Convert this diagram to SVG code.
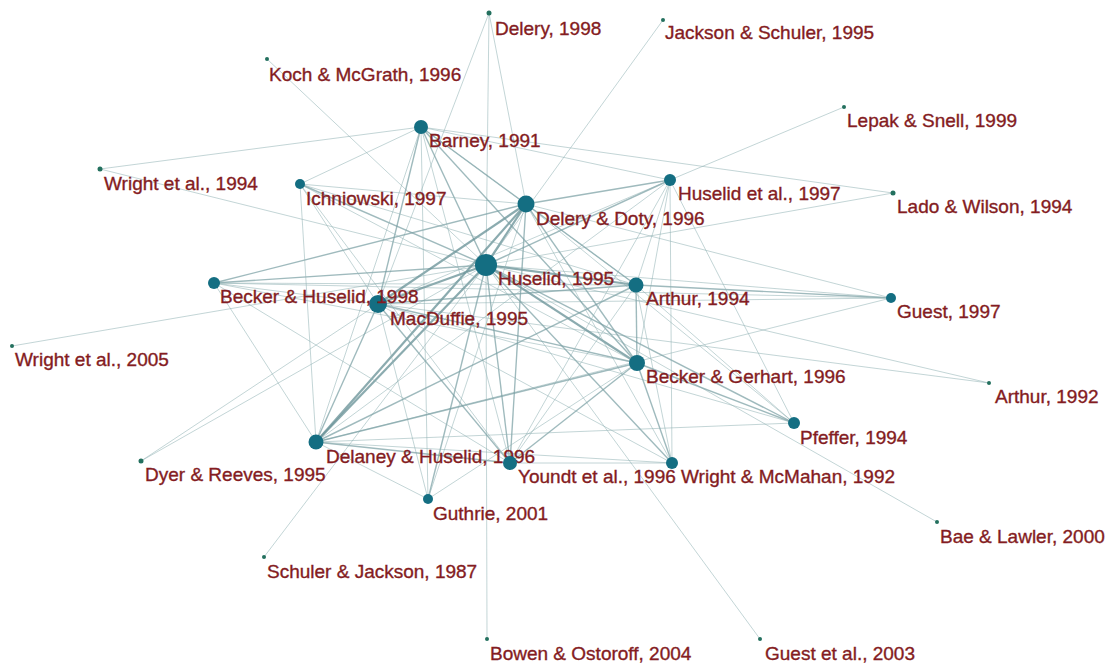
<svg xmlns="http://www.w3.org/2000/svg" width="1118" height="666" viewBox="0 0 1118 666">
<style>
.e1{stroke:#8fb0b3;stroke-width:0.9;stroke-opacity:0.6;fill:none}
.e2{stroke:#7a9fa3;stroke-width:1.4;stroke-opacity:0.72;fill:none}
.e3{stroke:#6a9398;stroke-width:2.2;stroke-opacity:0.78;fill:none}
.n{fill:#146e82}
.s{fill:#23705e}
text{font-family:"Liberation Sans",Arial,sans-serif;font-size:19px;fill:#841c22;stroke:#841c22;stroke-width:0.35}
</style>
<rect width="1118" height="666" fill="#ffffff"/>
<g id="connectors">
<line class="e1" x1="489" y1="13" x2="378" y2="304"/>
<line class="e1" x1="489" y1="13" x2="526" y2="204"/>
<line class="e1" x1="489" y1="13" x2="486" y2="265"/>
<line class="e1" x1="663" y1="20" x2="486" y2="265"/>
<line class="e1" x1="267" y1="59" x2="486" y2="265"/>
<line class="e1" x1="100" y1="169" x2="421" y2="127"/>
<line class="e1" x1="100" y1="169" x2="486" y2="265"/>
<line class="e1" x1="844" y1="107" x2="670" y2="180"/>
<line class="e1" x1="893" y1="193" x2="421" y2="127"/>
<line class="e1" x1="893" y1="193" x2="486" y2="265"/>
<line class="e2" x1="891" y1="298" x2="636" y2="285"/>
<line class="e1" x1="891" y1="298" x2="486" y2="265"/>
<line class="e1" x1="891" y1="298" x2="378" y2="304"/>
<line class="e1" x1="891" y1="298" x2="214" y2="283"/>
<line class="e1" x1="891" y1="298" x2="526" y2="204"/>
<line class="e1" x1="891" y1="298" x2="316" y2="442"/>
<line class="e1" x1="989" y1="383" x2="486" y2="265"/>
<line class="e1" x1="989" y1="383" x2="378" y2="304"/>
<line class="e1" x1="937" y1="522" x2="486" y2="265"/>
<line class="e1" x1="760" y1="639" x2="486" y2="265"/>
<line class="e1" x1="141" y1="461" x2="486" y2="265"/>
<line class="e1" x1="141" y1="461" x2="378" y2="304"/>
<line class="e1" x1="264" y1="557" x2="486" y2="265"/>
<line class="e1" x1="12" y1="346" x2="486" y2="265"/>
<line class="e1" x1="487" y1="639" x2="486" y2="265"/>
<line class="e3" x1="486" y1="265" x2="526" y2="204"/>
<line class="e3" x1="486" y1="265" x2="378" y2="304"/>
<line class="e3" x1="486" y1="265" x2="636" y2="285"/>
<line class="e3" x1="486" y1="265" x2="637" y2="363"/>
<line class="e3" x1="486" y1="265" x2="316" y2="442"/>
<line class="e2" x1="486" y1="265" x2="510" y2="463"/>
<line class="e2" x1="486" y1="265" x2="421" y2="127"/>
<line class="e2" x1="486" y1="265" x2="670" y2="180"/>
<line class="e2" x1="486" y1="265" x2="300" y2="184"/>
<line class="e2" x1="486" y1="265" x2="214" y2="283"/>
<line class="e2" x1="486" y1="265" x2="794" y2="423"/>
<line class="e2" x1="486" y1="265" x2="672" y2="463"/>
<line class="e2" x1="486" y1="265" x2="428" y2="499"/>
<line class="e3" x1="526" y1="204" x2="378" y2="304"/>
<line class="e2" x1="526" y1="204" x2="421" y2="127"/>
<line class="e2" x1="526" y1="204" x2="636" y2="285"/>
<line class="e2" x1="526" y1="204" x2="637" y2="363"/>
<line class="e3" x1="526" y1="204" x2="316" y2="442"/>
<line class="e2" x1="526" y1="204" x2="510" y2="463"/>
<line class="e2" x1="526" y1="204" x2="670" y2="180"/>
<line class="e1" x1="526" y1="204" x2="300" y2="184"/>
<line class="e2" x1="526" y1="204" x2="214" y2="283"/>
<line class="e1" x1="526" y1="204" x2="794" y2="423"/>
<line class="e1" x1="526" y1="204" x2="672" y2="463"/>
<line class="e1" x1="526" y1="204" x2="428" y2="499"/>
<line class="e2" x1="421" y1="127" x2="378" y2="304"/>
<line class="e2" x1="421" y1="127" x2="637" y2="363"/>
<line class="e1" x1="421" y1="127" x2="636" y2="285"/>
<line class="e1" x1="421" y1="127" x2="316" y2="442"/>
<line class="e1" x1="421" y1="127" x2="510" y2="463"/>
<line class="e1" x1="421" y1="127" x2="428" y2="499"/>
<line class="e1" x1="421" y1="127" x2="670" y2="180"/>
<line class="e1" x1="421" y1="127" x2="300" y2="184"/>
<line class="e2" x1="378" y1="304" x2="636" y2="285"/>
<line class="e2" x1="378" y1="304" x2="637" y2="363"/>
<line class="e2" x1="378" y1="304" x2="316" y2="442"/>
<line class="e2" x1="378" y1="304" x2="510" y2="463"/>
<line class="e1" x1="378" y1="304" x2="670" y2="180"/>
<line class="e1" x1="378" y1="304" x2="300" y2="184"/>
<line class="e1" x1="378" y1="304" x2="794" y2="423"/>
<line class="e1" x1="378" y1="304" x2="672" y2="463"/>
<line class="e1" x1="378" y1="304" x2="428" y2="499"/>
<line class="e1" x1="378" y1="304" x2="214" y2="283"/>
<line class="e2" x1="636" y1="285" x2="637" y2="363"/>
<line class="e2" x1="636" y1="285" x2="316" y2="442"/>
<line class="e1" x1="636" y1="285" x2="510" y2="463"/>
<line class="e1" x1="636" y1="285" x2="794" y2="423"/>
<line class="e1" x1="636" y1="285" x2="672" y2="463"/>
<line class="e1" x1="636" y1="285" x2="670" y2="180"/>
<line class="e1" x1="636" y1="285" x2="214" y2="283"/>
<line class="e1" x1="636" y1="285" x2="300" y2="184"/>
<line class="e2" x1="637" y1="363" x2="316" y2="442"/>
<line class="e2" x1="637" y1="363" x2="510" y2="463"/>
<line class="e2" x1="637" y1="363" x2="794" y2="423"/>
<line class="e2" x1="637" y1="363" x2="672" y2="463"/>
<line class="e1" x1="637" y1="363" x2="670" y2="180"/>
<line class="e1" x1="637" y1="363" x2="214" y2="283"/>
<line class="e1" x1="637" y1="363" x2="300" y2="184"/>
<line class="e1" x1="637" y1="363" x2="428" y2="499"/>
<line class="e2" x1="316" y1="442" x2="510" y2="463"/>
<line class="e1" x1="316" y1="442" x2="670" y2="180"/>
<line class="e1" x1="316" y1="442" x2="794" y2="423"/>
<line class="e1" x1="316" y1="442" x2="672" y2="463"/>
<line class="e1" x1="316" y1="442" x2="428" y2="499"/>
<line class="e1" x1="316" y1="442" x2="300" y2="184"/>
<line class="e1" x1="316" y1="442" x2="214" y2="283"/>
<line class="e1" x1="510" y1="463" x2="670" y2="180"/>
<line class="e1" x1="510" y1="463" x2="672" y2="463"/>
<line class="e1" x1="510" y1="463" x2="300" y2="184"/>
<line class="e1" x1="510" y1="463" x2="214" y2="283"/>
<line class="e1" x1="670" y1="180" x2="672" y2="463"/>
<line class="e1" x1="670" y1="180" x2="794" y2="423"/>
</g>
<g id="node-huselid-1995"><circle class="n" cx="486" cy="265" r="11"/><text x="498" y="285">Huselid, 1995</text></g>
<g id="node-delery-doty-1996"><circle class="n" cx="526" cy="204" r="8.5"/><text x="536" y="225">Delery &amp; Doty, 1996</text></g>
<g id="node-barney-1991"><circle class="n" cx="421" cy="127" r="7"/><text x="429" y="147">Barney, 1991</text></g>
<g id="node-macduffie-1995"><circle class="n" cx="378" cy="304" r="9"/><text x="390" y="325">MacDuffie, 1995</text></g>
<g id="node-arthur-1994"><circle class="n" cx="636" cy="285" r="7.5"/><text x="646" y="305">Arthur, 1994</text></g>
<g id="node-becker-gerhart-1996"><circle class="n" cx="637" cy="363" r="8"/><text x="646" y="383">Becker &amp; Gerhart, 1996</text></g>
<g id="node-delaney-huselid-1996"><circle class="n" cx="316" cy="442" r="7.5"/><text x="326" y="463">Delaney &amp; Huselid, 1996</text></g>
<g id="node-youndt-1996"><circle class="n" cx="510" cy="463" r="7"/><text x="518" y="483">Youndt et al., 1996</text></g>
<g id="node-huselid-1997"><circle class="n" cx="670" cy="180" r="6"/><text x="678" y="200">Huselid et al., 1997</text></g>
<g id="node-ichniowski-1997"><circle class="n" cx="300" cy="184" r="5"/><text x="306" y="205">Ichniowski, 1997</text></g>
<g id="node-becker-huselid-1998"><circle class="n" cx="214" cy="283" r="6"/><text x="220" y="303">Becker &amp; Huselid, 1998</text></g>
<g id="node-pfeffer-1994"><circle class="n" cx="794" cy="423" r="6"/><text x="800" y="444">Pfeffer, 1994</text></g>
<g id="node-wright-mcmahan-1992"><circle class="n" cx="672" cy="463" r="6"/><text x="681" y="483">Wright &amp; McMahan, 1992</text></g>
<g id="node-guthrie-2001"><circle class="n" cx="428" cy="499" r="5"/><text x="433" y="520">Guthrie, 2001</text></g>
<g id="node-guest-1997"><circle class="n" cx="891" cy="298" r="5"/><text x="897" y="318">Guest, 1997</text></g>
<g id="node-dyer-reeves-1995"><circle class="s" cx="141" cy="461" r="2.5"/><text x="145" y="481">Dyer &amp; Reeves, 1995</text></g>
<g id="node-delery-1998"><circle class="s" cx="489" cy="13" r="2.5"/><text x="495" y="35">Delery, 1998</text></g>
<g id="node-jackson-schuler-1995"><circle class="s" cx="663" cy="20" r="2"/><text x="665" y="39">Jackson &amp; Schuler, 1995</text></g>
<g id="node-koch-mcgrath-1996"><circle class="s" cx="267" cy="59" r="2"/><text x="269" y="81">Koch &amp; McGrath, 1996</text></g>
<g id="node-lepak-snell-1999"><circle class="s" cx="844" cy="107" r="2"/><text x="847" y="127">Lepak &amp; Snell, 1999</text></g>
<g id="node-wright-1994"><circle class="s" cx="100" cy="169" r="2.5"/><text x="104" y="190">Wright et al., 1994</text></g>
<g id="node-lado-wilson-1994"><circle class="s" cx="893" cy="193" r="2.5"/><text x="897" y="213">Lado &amp; Wilson, 1994</text></g>
<g id="node-wright-2005"><circle class="s" cx="12" cy="346" r="2"/><text x="15" y="366">Wright et al., 2005</text></g>
<g id="node-arthur-1992"><circle class="s" cx="989" cy="383" r="2"/><text x="995" y="403">Arthur, 1992</text></g>
<g id="node-bae-lawler-2000"><circle class="s" cx="937" cy="522" r="2"/><text x="940" y="543">Bae &amp; Lawler, 2000</text></g>
<g id="node-schuler-jackson-1987"><circle class="s" cx="264" cy="557" r="2"/><text x="267" y="578">Schuler &amp; Jackson, 1987</text></g>
<g id="node-bowen-ostoroff-2004"><circle class="s" cx="487" cy="639" r="2"/><text x="490" y="660">Bowen &amp; Ostoroff, 2004</text></g>
<g id="node-guest-2003"><circle class="s" cx="760" cy="639" r="2"/><text x="765" y="660">Guest et al., 2003</text></g>
</svg>
